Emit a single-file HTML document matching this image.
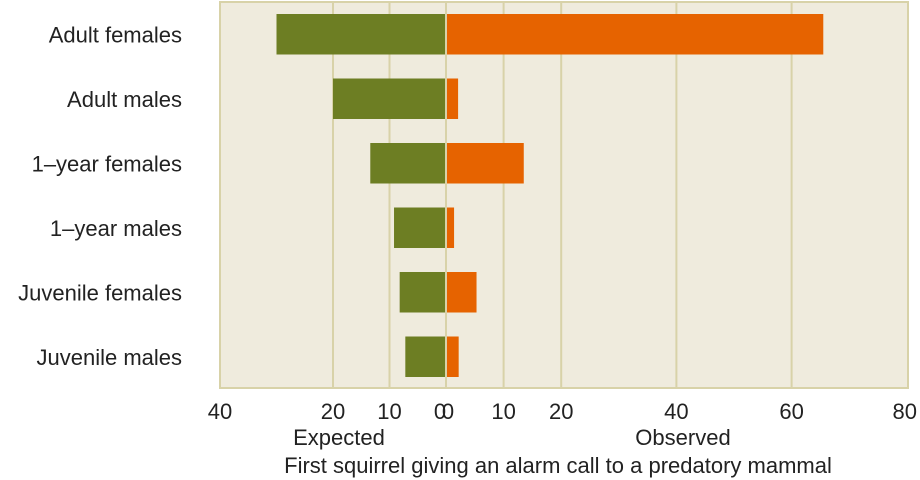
<!DOCTYPE html>
<html><head><meta charset="utf-8"><style>
html,body{margin:0;padding:0;background:#fff;}
svg{display:block;font-family:"Liberation Sans",sans-serif;}
</style></head><body>
<svg id="chart" width="920" height="480" viewBox="0 0 920 480" xmlns="http://www.w3.org/2000/svg">
<rect x="220" y="2" width="688" height="386" fill="#efebdd" stroke="#d8d2a8" stroke-width="2"/>
<g id="grid"></g><g id="bars"></g><g id="labels"></g>
<text x="339" y="445" font-size="22" text-anchor="middle" fill="#222">Expected</text>
<text x="683" y="445" font-size="22" text-anchor="middle" fill="#222">Observed</text>
<text x="558" y="473" font-size="22" text-anchor="middle" fill="#222">First squirrel giving an alarm call to a predatory mammal</text>
</svg>
<script>
const categories=["Adult females","Adult males","1\u2013year females","1\u2013year males","Juvenile females","Juvenile males"];
const expected=[30,20,13.4,9.2,8.2,7.2];
const observed=[65.5,2.1,13.5,1.4,5.3,2.2];
const leftTicks=[40,20,10,0];
const rightTicks=[0,10,20,40,60,80];
const NS="http://www.w3.org/2000/svg";
const cx=446;
function xLeft(v){return cx-v*5.65;}
function xRight(v){return cx+v*5.76;}
function rowY(i){return 14+i*64.5;}
const bh=40.5;
function mk(tag,attrs,parent){const e=document.createElementNS(NS,tag);for(const k in attrs)e.setAttribute(k,attrs[k]);parent.appendChild(e);return e;}
const grid=document.getElementById('grid'),bars=document.getElementById('bars'),labels=document.getElementById('labels');
leftTicks.forEach(t=>{const x=xLeft(t);
 if(t>0&&t<40){const l=mk('line',{x1:x,x2:x,y1:2,y2:388,stroke:'#d8d2a8','stroke-width':2},grid);
 
 }
 const tx=mk('text',{x:t===0?x-6:x,y:419,'font-size':22,'text-anchor':'middle',fill:'#222'},labels);tx.textContent=t;
 
 });
rightTicks.forEach(t=>{const x=xRight(t);
 if(t<80){const l=mk('line',{x1:x,x2:x,y1:2,y2:388,stroke:'#d8d2a8','stroke-width':2},grid);
 
 }
 const tx=mk('text',{x:t===0?x+2:(t===80?x-2:x),y:419,'font-size':22,'text-anchor':'middle',fill:'#222'},labels);tx.textContent=t;
 
 });
categories.forEach((c,i)=>{const y=rowY(i);
 const g=mk('rect',{x:xLeft(expected[i]),y:y,width:cx-xLeft(expected[i])-1,height:bh,fill:'#6d7e23'},bars);
 
 
 const o=mk('rect',{x:cx+1,y:y,width:xRight(observed[i])-cx-1,height:bh,fill:'#e66300'},bars);
 
 
 const tx=mk('text',{x:182,y:y+bh/2+8,'font-size':22,'text-anchor':'end',fill:'#222'},labels);tx.textContent=c;
 
 });
</script>
</body></html>
